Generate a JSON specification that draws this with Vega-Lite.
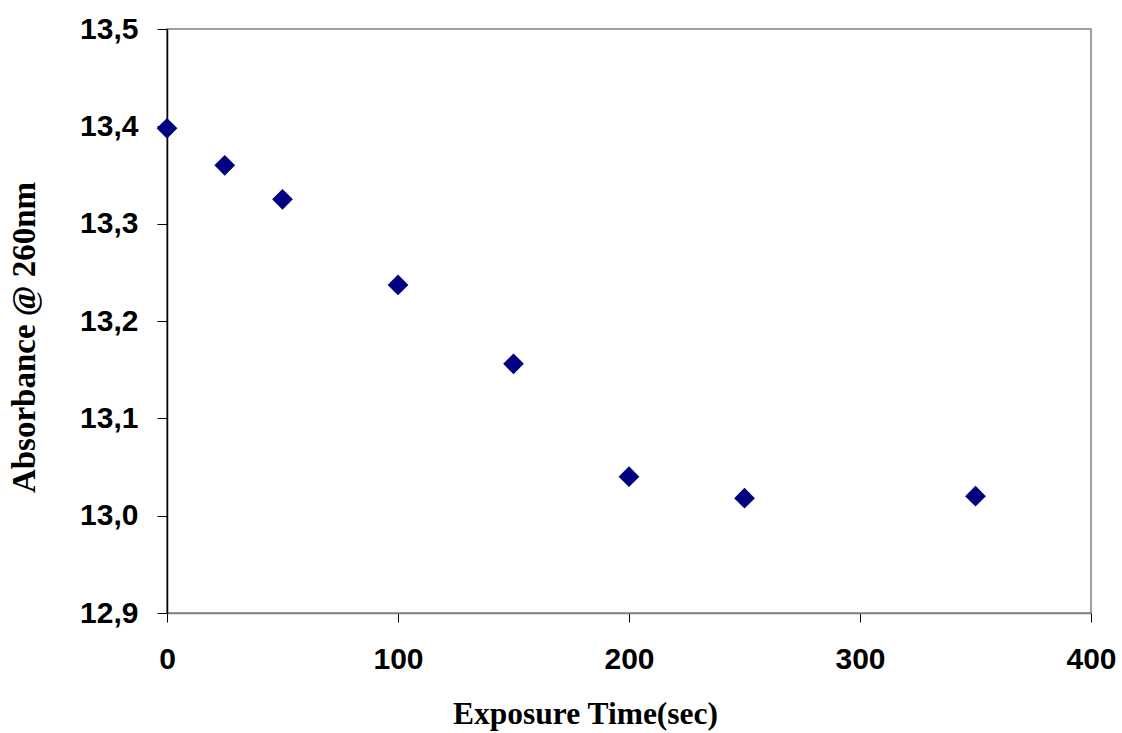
{
  "$schema": "https://vega.github.io/schema/vega-lite/v6.json",
  "autosize": {"type": "none"},
  "padding": {"left": 167, "top": 29, "right": 31, "bottom": 120},
  "width": 924,
  "height": 584,
  "background": "white",
  "config": {
    "locale": {"number": {"decimal": ",", "thousands": ".", "grouping": [3], "currency": ["", ""]}},
    "view": {"stroke": "#808080", "strokeWidth": 1.5}
  },
  "data": {"values": [
    {"t": 0, "a": 13.398},
    {"t": 25, "a": 13.360},
    {"t": 50, "a": 13.325},
    {"t": 100, "a": 13.237},
    {"t": 150, "a": 13.156},
    {"t": 200, "a": 13.040},
    {"t": 250, "a": 13.018},
    {"t": 350, "a": 13.020}
  ]},
  "mark": {"type": "point", "shape": "diamond", "filled": true, "size": 430, "color": "#000080", "opacity": 1},
  "encoding": {
    "x": {"field": "t", "type": "quantitative",
      "scale": {"domain": [0, 400], "nice": false, "zero": false},
      "axis": {"values": [0, 100, 200, 300, 400], "grid": false, "title": "Exposure Time(sec)",
        "titleFont": "Liberation Serif", "titleFontSize": 31.5, "titleFontWeight": "bold", "titleColor": "black", "titlePadding": 24, "titleX": 418,
        "labelFont": "Liberation Sans", "labelFontSize": 30, "labelFontWeight": "bold", "labelColor": "black", "labelPadding": 22,
        "tickSize": 9, "tickColor": "black", "domainColor": "#808080", "domainWidth": 1.5, "labelFlush": false}},
    "y": {"field": "a", "type": "quantitative",
      "scale": {"domain": [12.9, 13.5], "nice": false, "zero": false},
      "axis": {"values": [12.9, 13.0, 13.1, 13.2, 13.3, 13.4, 13.5], "format": ".1f", "grid": false, "title": "Absorbance @ 260nm",
        "titleFont": "Liberation Serif", "titleFontSize": 33, "titleFontWeight": "bold", "titleColor": "black", "titlePadding": 38, "titleY": 308,
        "labelFont": "Liberation Sans", "labelFontSize": 30, "labelFontWeight": "bold", "labelColor": "black", "labelPadding": 19,
        "tickSize": 10, "tickColor": "black", "domainColor": "black", "domainWidth": 1.5}}
  }
}
